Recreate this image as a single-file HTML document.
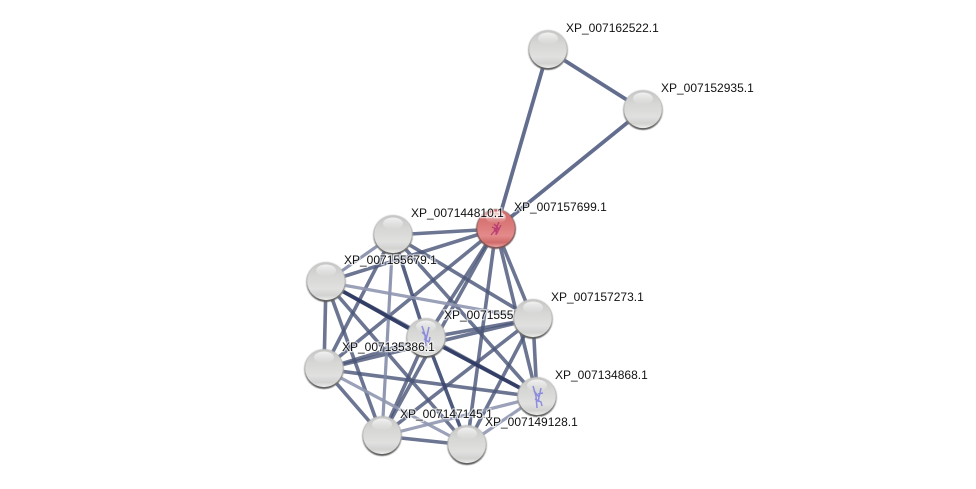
<!DOCTYPE html>
<html><head><meta charset="utf-8"><style>
html,body{margin:0;padding:0;background:#fff}
svg{display:block}
text{font-family:"Liberation Sans",sans-serif;font-size:12px;fill:#111;paint-order:stroke;stroke:rgba(255,255,255,.65);stroke-width:2.5px}
</style></head><body>
<svg width="976" height="489" viewBox="0 0 976 489" xmlns="http://www.w3.org/2000/svg">
<defs>
<linearGradient id="g" x1="0" y1="0" x2="0" y2="1">
<stop offset="0" stop-color="#c6c6c5"/><stop offset=".35" stop-color="#d6d6d5"/><stop offset=".7" stop-color="#e0e0df"/><stop offset=".88" stop-color="#d2d2d1"/><stop offset="1" stop-color="#ececeb"/>
</linearGradient>
<linearGradient id="r" x1="0" y1="0" x2="0" y2="1">
<stop offset="0" stop-color="#d06c6c"/><stop offset=".35" stop-color="#d97676"/><stop offset=".7" stop-color="#e48a8a"/><stop offset=".88" stop-color="#d06a6a"/><stop offset="1" stop-color="#eaa0a0"/>
</linearGradient>
<linearGradient id="h" x1="0" y1="0" x2="0" y2="1"><stop offset="0" stop-color="#fff" stop-opacity=".75"/><stop offset="1" stop-color="#fff" stop-opacity="0"/></linearGradient>
<linearGradient id="sh" x1="0" y1="0" x2="0" y2="1"><stop offset="0" stop-color="#bbb"/><stop offset=".55" stop-color="#aaa"/><stop offset="1" stop-color="#555"/></linearGradient>
<filter id="b" x="-20%" y="-20%" width="140%" height="140%"><feGaussianBlur stdDeviation=".45"/></filter>
<g id="n"><circle r="20" fill="url(#sh)" filter="url(#b)"/><circle cy="-.7" r="18.8" fill="url(#g)"/><ellipse cy="-11.5" rx="10" ry="6" fill="url(#h)"/></g>
<g id="nr"><circle r="20" fill="#7a5555" filter="url(#b)"/><circle cy="-.7" r="18.8" fill="url(#r)"/><ellipse cy="-11.5" rx="10" ry="6" fill="url(#h)"/></g>
</defs>

<g fill="none" stroke-linecap="butt">
<g stroke="#636d8e" stroke-width="3.8">
<path d="M548 50L643 110"/><path d="M548 50L496 229"/><path d="M643 110L496 229"/>
</g>
<g stroke="#4c5779" stroke-width="3.6" stroke-opacity=".82">
<path d="M393 235L496 229"/><path d="M326 282L496 229"/><path d="M496 229L533 319"/><path d="M496 229L537 397"/><path d="M496 229L467 445"/><path d="M496 229L382 436"/><path d="M496 229L324 369"/><path d="M496 229L426 338"/>
<path d="M393 235L533 319"/><path d="M393 235L537 397"/><path d="M393 235L324 369"/>
<path d="M326 282L324 369"/><path d="M326 282L382 436"/><path d="M326 282L467 445"/>
<path d="M426 338L533 319"/><path d="M426 338L382 436"/><path d="M324 369L426 338"/>
<path d="M533 319L537 397"/><path d="M533 319L324 369"/><path d="M533 319L382 436"/><path d="M533 319L467 445"/>
<path d="M324 369L537 397"/><path d="M324 369L382 436"/><path d="M382 436L467 445"/>
<path d="M326 282L537 397" stroke-opacity=".72"/>
</g>
<path stroke="#3a4670" stroke-width="3.6" stroke-opacity=".85" d="M393 235L426 338"/>
<path stroke="#7d86a4" stroke-width="3.2" stroke-opacity=".85" d="M393 235L382 436"/>
<path stroke="#8f97b0" stroke-width="3.2" d="M393 235L326 282"/>
<path stroke="#8f97b0" stroke-width="3.2" stroke-opacity=".9" d="M326 282L533 319"/>
<path stroke="#2e3a62" stroke-width="3.8" stroke-opacity=".95" d="M326 282L426 338"/>
<path stroke="#2f3b64" stroke-width="3.8" stroke-opacity=".95" d="M426 338L537 397"/>
<path stroke="#3b4770" stroke-width="3.6" stroke-opacity=".9" d="M426 338L467 445"/>
<g stroke="#8f97b0" stroke-width="3.2" stroke-opacity=".9">
<path d="M324 369L467 445"/><path d="M382 436L537 397"/><path d="M467 445L537 397"/>
</g>
</g>

<use href="#n" x="393" y="235"/>
<use href="#n" x="326" y="282"/>
<text x="344" y="264">XP_007155679.1</text>
<text x="444" y="319">XP_007155555.1</text>
<use href="#n" x="426" y="338"/>
<path d="M422 326l3 9 1 11M429 327l-3 13M424 339l5 3 1-5M422 332l5 5" fill="none" stroke="#7878e0" stroke-width="1.5" opacity=".8"/>
<use href="#n" x="533" y="319"/>
<text x="551" y="301">XP_007157273.1</text>
<use href="#n" x="324" y="369"/>
<text x="342" y="351">XP_007135386.1</text>
<use href="#n" x="537" y="397"/>
<path d="M533 386l3 10 1 12M541 388l-3 14M535 399l6 3 1 4M538 394l5-1M534 391l5 6" fill="none" stroke="#7878e0" stroke-width="1.5" opacity=".8"/>
<text x="555" y="379">XP_007134868.1</text>
<use href="#n" x="382" y="436"/>
<text x="400" y="418">XP_007147145.1</text>
<use href="#n" x="467" y="445"/>
<text x="485" y="426">XP_007149128.1</text>
<use href="#n" x="548" y="50"/>
<text x="566" y="32">XP_007162522.1</text>
<use href="#n" x="643" y="110"/>
<text x="661" y="92">XP_007152935.1</text>
<use href="#nr" x="496" y="229"/>
<path d="M499 222l-3 7-5 6M501 225l-4 8-3-4M492 227l7 3M497 225l-1 10M494 224l5 5" fill="none" stroke="#b03070" stroke-width="1.3" opacity=".8"/>
<text x="411" y="217">XP_007144810.1</text>
<text x="514" y="211">XP_007157699.1</text>
</svg>
</body></html>
